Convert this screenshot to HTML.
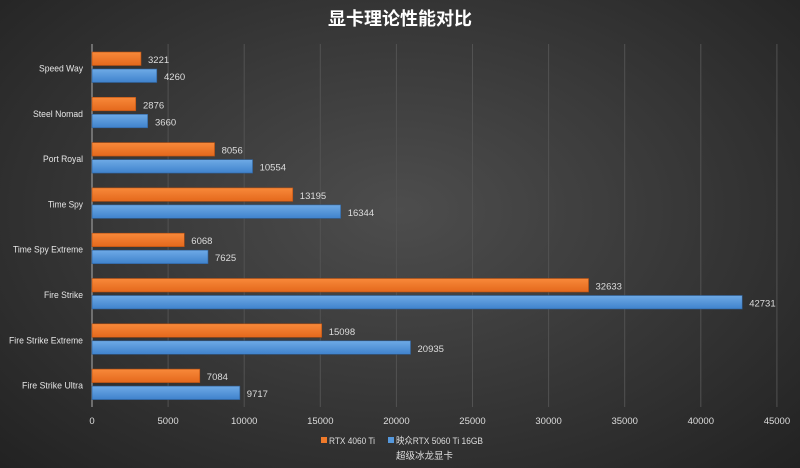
<!DOCTYPE html>
<html><head><meta charset="utf-8"><style>
html,body{margin:0;padding:0}
body{width:800px;height:468px;overflow:hidden;background:radial-gradient(ellipse at 50% 45%,#4d4d4d 0%,#3a3a3a 45%,#222 100%);font-family:"Liberation Sans","Noto Sans CJK SC",sans-serif;}
</style></head><body>
<svg width="800" height="468" xmlns="http://www.w3.org/2000/svg" style="position:absolute;left:0;top:0">
<defs>
<linearGradient id="o" x1="0" y1="0" x2="0" y2="1"><stop offset="0" stop-color="#f8893a"/><stop offset="1" stop-color="#e4681c"/></linearGradient>
<linearGradient id="b" x1="0" y1="0" x2="0" y2="1"><stop offset="0" stop-color="#6eaae6"/><stop offset="1" stop-color="#3f82cc"/></linearGradient>
</defs>
<text x="400" y="25" fill="#fff" font-size="18" font-weight="bold" text-anchor="middle" font-family="Noto Sans CJK SC,sans-serif">显卡理论性能对比</text>
<g stroke="#525252" stroke-width="1">
<line x1="168.1" y1="44" x2="168.1" y2="407"/><line x1="244.2" y1="44" x2="244.2" y2="407"/><line x1="320.3" y1="44" x2="320.3" y2="407"/><line x1="396.4" y1="44" x2="396.4" y2="407"/><line x1="472.5" y1="44" x2="472.5" y2="407"/><line x1="548.6" y1="44" x2="548.6" y2="407"/><line x1="624.7" y1="44" x2="624.7" y2="407"/><line x1="700.8" y1="44" x2="700.8" y2="407"/><line x1="776.9" y1="44" x2="776.9" y2="407"/>
</g>
<line x1="92" y1="44" x2="92" y2="407" stroke="#999" stroke-width="1.2"/>
<g fill="#ddd" font-size="9.5" text-anchor="middle">
<text x="92" y="424">0</text><text x="168.1" y="424">5000</text><text x="244.2" y="424">10000</text><text x="320.3" y="424">15000</text><text x="396.4" y="424">20000</text><text x="472.5" y="424">25000</text><text x="548.6" y="424">30000</text><text x="624.7" y="424">35000</text><text x="700.8" y="424">40000</text><text x="776.9" y="424">45000</text>
</g>
<g stroke-width="0.6">
<rect x="92" y="52" width="49.01" height="13.5" fill="url(#o)" stroke="#b44f12"/><rect x="92" y="69" width="64.82" height="13.5" fill="url(#b)" stroke="#2f5f96"/>
<rect x="92" y="97.3" width="43.76" height="13.5" fill="url(#o)" stroke="#b44f12"/><rect x="92" y="114.3" width="55.69" height="13.5" fill="url(#b)" stroke="#2f5f96"/>
<rect x="92" y="142.6" width="122.58" height="13.5" fill="url(#o)" stroke="#b44f12"/><rect x="92" y="159.6" width="160.59" height="13.5" fill="url(#b)" stroke="#2f5f96"/>
<rect x="92" y="187.9" width="200.77" height="13.5" fill="url(#o)" stroke="#b44f12"/><rect x="92" y="204.9" width="248.69" height="13.5" fill="url(#b)" stroke="#2f5f96"/>
<rect x="92" y="233.2" width="92.33" height="13.5" fill="url(#o)" stroke="#b44f12"/><rect x="92" y="250.2" width="116.02" height="13.5" fill="url(#b)" stroke="#2f5f96"/>
<rect x="92" y="278.5" width="496.54" height="13.5" fill="url(#o)" stroke="#b44f12"/><rect x="92" y="295.5" width="650.2" height="13.5" fill="url(#b)" stroke="#2f5f96"/>
<rect x="92" y="323.8" width="229.73" height="13.5" fill="url(#o)" stroke="#b44f12"/><rect x="92" y="340.8" width="318.55" height="13.5" fill="url(#b)" stroke="#2f5f96"/>
<rect x="92" y="369.1" width="107.79" height="13.5" fill="url(#o)" stroke="#b44f12"/><rect x="92" y="386.1" width="147.85" height="13.5" fill="url(#b)" stroke="#2f5f96"/>
</g>
<g fill="#ddd" font-size="9.5">
<text x="148" y="63">3221</text><text x="164" y="80">4260</text>
<text x="143" y="108.3">2876</text><text x="155" y="125.3">3660</text>
<text x="221.6" y="153.6">8056</text><text x="259.6" y="170.6">10554</text>
<text x="299.8" y="198.9">13195</text><text x="347.7" y="215.9">16344</text>
<text x="191.3" y="244.2">6068</text><text x="215" y="261.2">7625</text>
<text x="595.5" y="289.5">32633</text><text x="749.2" y="306.5">42731</text>
<text x="328.7" y="334.8">15098</text><text x="417.5" y="351.8">20935</text>
<text x="206.8" y="380.1">7084</text><text x="246.8" y="397.1">9717</text>
</g>
<g fill="#e6e6e6" font-size="9.5" lengthAdjust="spacingAndGlyphs">
<text x="39" y="71.5" textLength="44" lengthAdjust="spacingAndGlyphs">Speed Way</text>
<text x="33" y="116.8" textLength="50" lengthAdjust="spacingAndGlyphs">Steel Nomad</text>
<text x="43" y="162.1" textLength="40" lengthAdjust="spacingAndGlyphs">Port Royal</text>
<text x="48" y="207.4" textLength="35" lengthAdjust="spacingAndGlyphs">Time Spy</text>
<text x="13" y="252.7" textLength="70" lengthAdjust="spacingAndGlyphs">Time Spy Extreme</text>
<text x="44" y="298" textLength="39" lengthAdjust="spacingAndGlyphs">Fire Strike</text>
<text x="9" y="343.3" textLength="74" lengthAdjust="spacingAndGlyphs">Fire Strike Extreme</text>
<text x="22" y="388.6" textLength="61" lengthAdjust="spacingAndGlyphs">Fire Strike Ultra</text>
</g>
<g fill="#ddd" font-size="9.5">
<rect x="321" y="437" width="6" height="6" fill="#f07a2a"/><text x="329" y="444" textLength="46" lengthAdjust="spacingAndGlyphs">RTX 4060 Ti</text>
<rect x="388" y="437" width="6" height="6" fill="#5598dc"/><text x="396" y="444" textLength="87" lengthAdjust="spacingAndGlyphs" font-family="Liberation Sans,Noto Sans CJK SC,sans-serif">映众RTX 5060 Ti 16GB</text>
<text x="396" y="459" font-family="Noto Sans CJK SC,sans-serif">超级冰龙显卡</text>
</g>
</svg>
</body></html>
